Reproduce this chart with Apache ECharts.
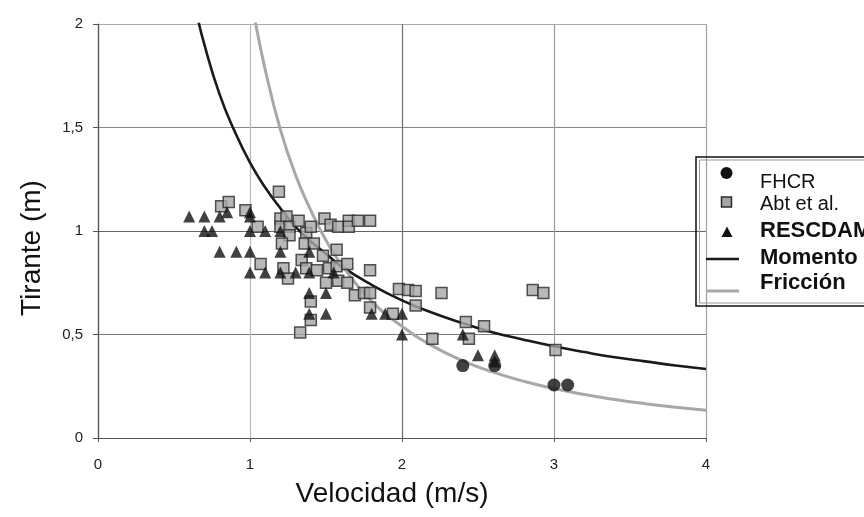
<!DOCTYPE html>
<html>
<head>
<meta charset="utf-8">
<script src="https://cdn.jsdelivr.net/npm/echarts@6.0.0/dist/echarts.min.js"></script>
<style>
html,body{margin:0;padding:0;background:#fff;}
#chart{width:864px;height:517px;}
</style>
</head>
<body>
<div id="chart"></div>
<script>
// ---- Data ----
var xTicks = [0, 1, 2, 3, 4];
var yTicks = [0, 0.5, 1, 1.5, 2];

var fhcr = [[2.40, 0.35], [2.61, 0.35], [3.00, 0.256], [3.09, 0.256]];

var abt = [
  [0.81, 1.12], [0.86, 1.14], [0.97, 1.10], [1.05, 1.02], [1.07, 0.84],
  [1.19, 1.19], [1.20, 1.06], [1.24, 1.07], [1.20, 1.02], [1.26, 1.02],
  [1.32, 1.05], [1.26, 0.98], [1.37, 0.99], [1.40, 1.02], [1.49, 1.06],
  [1.53, 1.03], [1.58, 1.02], [1.65, 1.05], [1.65, 1.02], [1.71, 1.05],
  [1.79, 1.05], [1.21, 0.94], [1.36, 0.94], [1.42, 0.94], [1.57, 0.91],
  [1.48, 0.88], [1.34, 0.86], [1.22, 0.82], [1.37, 0.82], [1.44, 0.81],
  [1.52, 0.82], [1.57, 0.83], [1.64, 0.84], [1.79, 0.81], [1.25, 0.77],
  [1.50, 0.75], [1.58, 0.76], [1.64, 0.75], [1.40, 0.66], [1.40, 0.57],
  [1.33, 0.51], [1.69, 0.69], [1.75, 0.70], [1.79, 0.70], [1.79, 0.63],
  [1.94, 0.60], [1.98, 0.72], [2.04, 0.715], [2.09, 0.71], [2.09, 0.64],
  [2.26, 0.70], [2.20, 0.48], [2.42, 0.56], [2.44, 0.48], [2.54, 0.54],
  [2.86, 0.715], [2.93, 0.70], [3.01, 0.425]
];

var rescdam = [
  [0.60, 1.07], [0.70, 1.07], [0.80, 1.07], [0.85, 1.09], [1.00, 1.09], [1.00, 1.07],
  [0.70, 1.00], [0.75, 1.00], [1.00, 1.00], [1.10, 1.00], [1.20, 1.00],
  [0.80, 0.90], [0.91, 0.90], [1.00, 0.90], [1.20, 0.90], [1.39, 0.90],
  [1.00, 0.80], [1.10, 0.80], [1.20, 0.80], [1.30, 0.80], [1.39, 0.80], [1.55, 0.80],
  [1.39, 0.70], [1.50, 0.70], [1.39, 0.60], [1.50, 0.60],
  [1.80, 0.60], [1.89, 0.60], [2.00, 0.60], [2.00, 0.50], [2.40, 0.50],
  [2.50, 0.40], [2.61, 0.40], [2.61, 0.37]
];

var momento = [
  [0.64, 2.08], [0.70, 1.90], [0.80, 1.66], [0.90, 1.48], [1.00, 1.33], [1.10, 1.21],
  [1.20, 1.11], [1.30, 1.02], [1.40, 0.95], [1.50, 0.89], [1.60, 0.83], [1.80, 0.74],
  [2.00, 0.665], [2.20, 0.605], [2.40, 0.555], [2.60, 0.51], [2.80, 0.475], [3.00, 0.443],
  [3.20, 0.415], [3.40, 0.39], [3.60, 0.37], [3.80, 0.35], [4.00, 0.333]
];

var friccion = [
  [1.03, 2.03], [1.10, 1.78], [1.20, 1.49], [1.30, 1.27], [1.40, 1.10], [1.50, 0.955],
  [1.60, 0.84], [1.80, 0.66], [2.00, 0.54], [2.20, 0.445], [2.40, 0.373], [2.60, 0.318],
  [2.80, 0.274], [3.00, 0.239], [3.20, 0.21], [3.40, 0.186], [3.60, 0.166], [3.80, 0.149],
  [4.00, 0.134]
];

var seriesNames = ['FHCR', 'Abt et al.', 'RESCDAM', 'Momento', 'Fricción'];
var xTitle = 'Velocidad (m/s)';
var yTitle = 'Tirante (m)';

// ---- Chart ----
var FONT = '"Liberation Sans", Arial, sans-serif';
function fmt(v) { return String(v).replace('.', ','); }

var chart = echarts.init(document.getElementById('chart'), null, {renderer: 'canvas'});

var lx = 706, tx = 760;
var option = {
  backgroundColor: '#ffffff',
  animation: false,
  grid: {left: 98, right: 158, top: 24, bottom: 79, containLabel: false},
  xAxis: {
    type: 'value', min: xTicks[0], max: xTicks[xTicks.length - 1], interval: 1,
    name: xTitle, nameLocation: 'middle', nameGap: 42,
    nameTextStyle: {fontFamily: FONT, fontSize: 28, color: '#111', padding: [0, 20, 0, 0]},
    axisLine: {show: true, onZero: false, lineStyle: {color: '#555', width: 1.2}},
    axisTick: {show: true, length: 4, lineStyle: {color: '#555'}},
    axisLabel: {fontFamily: FONT, fontSize: 15, color: '#222', margin: 19, formatter: fmt},
    splitLine: {show: true, lineStyle: {color: ['#777', '#b8b8b8', '#6e6e6e', '#9a9a9a', '#a0a0a0'], width: 1.2}}
  },
  yAxis: {
    type: 'value', min: yTicks[0], max: yTicks[yTicks.length - 1], interval: 0.5,
    name: yTitle, nameLocation: 'middle', nameGap: 52, nameRotate: 90,
    nameTextStyle: {fontFamily: FONT, fontSize: 28, color: '#111', padding: [0, 34, 0, 0]},
    axisLine: {show: true, onZero: false, lineStyle: {color: '#555', width: 1.2}},
    axisTick: {show: true, length: 5, lineStyle: {color: '#555'}},
    axisLabel: {fontFamily: FONT, fontSize: 15, color: '#222', margin: 15, formatter: fmt},
    splitLine: {show: true, lineStyle: {color: ['#777', '#777', '#666', '#888', '#aaa'], width: 1.2}}
  },
  series: [
    {name: seriesNames[3], type: 'line', data: momento, smooth: true, symbol: 'none', z: 2,
     lineStyle: {color: '#1a1a1a', width: 2.6}},
    {name: seriesNames[4], type: 'line', data: friccion, smooth: true, symbol: 'none', z: 2,
     lineStyle: {color: '#a8a8a8', width: 3}},
    {name: seriesNames[1], type: 'scatter', data: abt, symbol: 'rect', symbolSize: 11, z: 3,
     itemStyle: {color: '#a6a6a6', borderColor: '#2b2b2b', borderWidth: 1.5}},
    {name: seriesNames[2], type: 'scatter', data: rescdam, symbol: 'triangle', symbolSize: 12, z: 4,
     itemStyle: {color: '#111'}},
    {name: seriesNames[0], type: 'scatter', data: fhcr, symbol: 'circle', symbolSize: 13, z: 5,
     itemStyle: {color: '#111'}}
  ],
  graphic: [
    {type: 'rect', z: 10, shape: {x: 696, y: 157, width: 200, height: 149},
     style: {fill: 'none', stroke: '#111', lineWidth: 1.5}},
    {type: 'rect', z: 10, shape: {x: 699.5, y: 160, width: 200, height: 143},
     style: {fill: 'none', stroke: '#999', lineWidth: 1}},
    {type: 'circle', z: 11, shape: {cx: 726.5, cy: 173, r: 6}, style: {fill: '#111'}},
    {type: 'rect', z: 11, shape: {x: 721.5, y: 197, width: 10, height: 10},
     style: {fill: '#a6a6a6', stroke: '#2b2b2b', lineWidth: 1.5}},
    {type: 'polygon', z: 11, shape: {points: [[727, 226.5], [732.5, 237], [721.5, 237]]}, style: {fill: '#111'}},
    {type: 'line', z: 11, shape: {x1: lx, y1: 259, x2: 739, y2: 259}, style: {stroke: '#1a1a1a', lineWidth: 2.6}},
    {type: 'line', z: 11, shape: {x1: lx, y1: 291, x2: 739, y2: 291}, style: {stroke: '#a8a8a8', lineWidth: 3}},
    {type: 'text', z: 11, style: {x: tx, y: 182, text: seriesNames[0], fill: '#111', font: 'normal 20px ' + FONT, textVerticalAlign: 'middle'}},
    {type: 'text', z: 11, style: {x: tx, y: 204, text: seriesNames[1], fill: '#111', font: 'normal 20px ' + FONT, textVerticalAlign: 'middle'}},
    {type: 'text', z: 11, style: {x: tx, y: 231, text: seriesNames[2], fill: '#111', font: 'bold 22px ' + FONT, textVerticalAlign: 'middle'}},
    {type: 'text', z: 11, style: {x: tx, y: 258, text: seriesNames[3], fill: '#111', font: 'bold 22px ' + FONT, textVerticalAlign: 'middle'}},
    {type: 'text', z: 11, style: {x: tx, y: 283, text: seriesNames[4], fill: '#111', font: 'bold 22px ' + FONT, textVerticalAlign: 'middle'}}
  ]
};
chart.setOption(option);
</script>
</body>
</html>
